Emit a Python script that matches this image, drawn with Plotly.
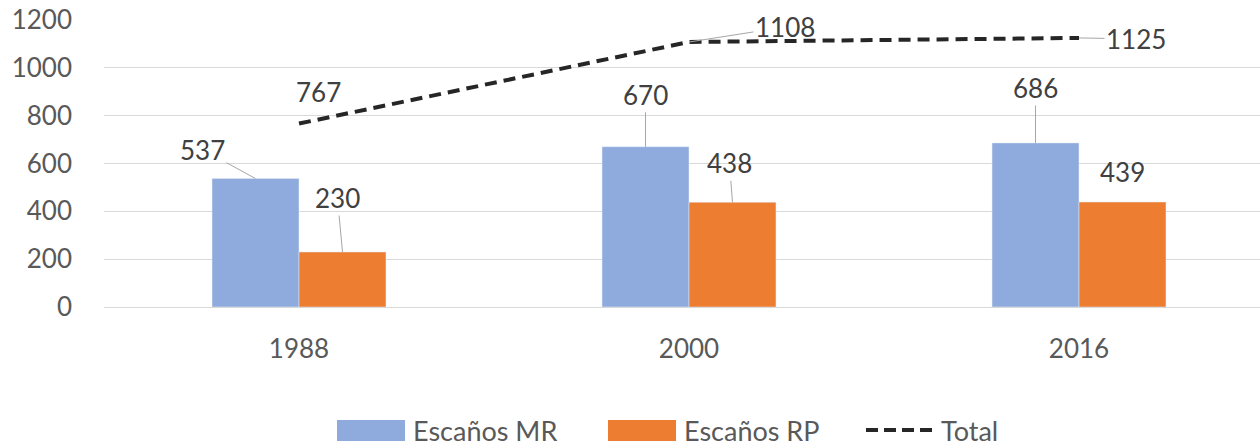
import plotly.graph_objects as go

# data
years = ["1988", "2000", "2016"]
mr_seats = [537, 670, 686]
rp_seats = [230, 438, 439]
total_seats = [767, 1108, 1125]
y_ticks = [0, 200, 400, 600, 800, 1000, 1200]

BLUE = "#8FAADC"
ORANGE = "#ED7D31"
LINE = "#262626"
FONT = "Lato"

# plot area in pixels (page is 1260x448)
L, R, T, B = 104, 0, 20, 141
W, H = 1260, 448
PW, PH = W - L - R, H - T - B

pos = list(range(len(years)))
bar_off = 0.1115  # half a bar width, in category units

fig = go.Figure()
fig.add_trace(go.Bar(x=pos, y=mr_seats, name="Escaños MR", marker_color=BLUE,
                     showlegend=False))
fig.add_trace(go.Bar(x=pos, y=rp_seats, name="Escaños RP", marker_color=ORANGE,
                     showlegend=False))
fig.add_trace(go.Scatter(x=pos, y=total_seats, name="Total", mode="lines",
                         line=dict(color=LINE, width=4, dash="12px,7px"),
                         showlegend=False))

# data labels (Excel style callouts): (dx, dy) text offset in px, leader line or not
lab_font = dict(family=FONT, size=26, color="#404040")
mr_offsets = [(-53, -29), (0, -52), (0, -55)]
rp_offsets = [(-5, -54), (-3, -39), (0, -30)]
tot_offsets = [(19, -32), (96, -15), (57, 1)]
rp_leader = [True, True, False]
tot_leader = [False, True, True]


def label(x, y, val, off, leader):
    if leader:
        fig.add_annotation(x=x, y=y, text=str(val), showarrow=True, arrowhead=0,
                           arrowwidth=1, arrowcolor="#A6A6A6", standoff=0,
                           ax=off[0], ay=off[1], font=lab_font)
    else:
        fig.add_annotation(x=x, y=y, text=str(val), showarrow=False,
                           xshift=off[0], yshift=-off[1], font=lab_font)


for i in pos:
    label(i - bar_off, mr_seats[i], mr_seats[i], mr_offsets[i], True)
    label(i + bar_off, rp_seats[i], rp_seats[i], rp_offsets[i], rp_leader[i])
    label(i, total_seats[i], total_seats[i], tot_offsets[i], tot_leader[i])


# custom legend, drawn in pixels
def px(x):
    return (x - L) / PW


def py(y):
    return (H - B - y) / PH


leg_y = 430
fig.add_shape(type="rect", xref="paper", yref="paper", x0=px(337), x1=px(405),
              y0=py(441), y1=py(420), fillcolor=BLUE, line_width=0)
fig.add_shape(type="rect", xref="paper", yref="paper", x0=px(608), x1=px(676),
              y0=py(441), y1=py(420), fillcolor=ORANGE, line_width=0)
fig.add_shape(type="line", xref="paper", yref="paper", x0=px(866), x1=px(936),
              y0=py(leg_y), y1=py(leg_y), line=dict(color=LINE, width=4, dash="12px,6px"))
leg_font = dict(family=FONT, size=27, color="#595959")
for x0, name in [(411, "Escaños MR"), (682, "Escaños RP"), (939, "Total")]:
    fig.add_annotation(xref="paper", yref="paper", x=px(x0), y=py(leg_y), text=name,
                       showarrow=False, xanchor="left", yanchor="middle", font=leg_font)

fig.update_layout(
    width=W, height=H,
    margin=dict(l=L, r=R, t=T, b=B, autoexpand=False),
    paper_bgcolor="white", plot_bgcolor="white",
    barmode="group", bargap=0.554, bargroupgap=0,
    font=dict(family=FONT, size=26, color="#595959"),
)
fig.update_xaxes(range=[-0.5, 2.5 - 14 / 390], tickvals=pos, ticktext=years,
                 showgrid=False, zeroline=False, showline=False, ticks="",
                 automargin=False, ticklabelstandoff=24,
                 tickfont=dict(family=FONT, size=26, color="#595959"))
fig.update_yaxes(range=[0, 1200], tickvals=y_ticks, showgrid=True, gridcolor="#D9D9D9",
                 gridwidth=1, zeroline=True, zerolinecolor="#D9D9D9", zerolinewidth=1,
                 showline=False, ticks="", automargin=False, ticklabelstandoff=31,
                 tickfont=dict(family=FONT, size=26, color="#595959"))

# page body has a default 8px margin; drop it so the figure fills the window
fig.write_html("out.html", config={"displayModeBar": False},
               post_script="document.body.style.margin='0';")
